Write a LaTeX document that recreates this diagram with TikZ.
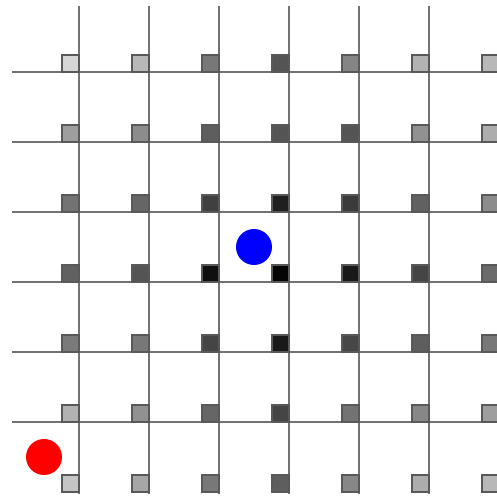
\documentclass[tikz,border=0pt]{standalone}
\usepackage{tikz}
\usetikzlibrary{positioning}
\tikzset{
  gridline/.style={draw=black!55, line width=0.7pt},
  cellmark/.style={
    rectangle, draw=black!65, line width=0.6pt,
    minimum size=0.243cm, inner sep=0pt, outer sep=0pt,
    anchor=south east
  },
  marker/.style={
    circle, fill=#1, draw=none,
    minimum size=0.514cm, inner sep=0pt
  }
}
\begin{document}
\begin{tikzpicture}[x=1cm, y=-1cm]

% page frame
\useasboundingbox (-0.1286,-0.0286) rectangle (6.971,7.1);
\clip (-0.1286,-0.0286) rectangle (6.971,7.1);

% grid
\foreach \k in {1,...,6} {
  \draw[gridline] (0.043,\k) -- (6.971,\k);
  \draw[gridline] (\k,0.057) -- (\k,7.03);
}

% shaded markers at each crossing
\foreach \vals [count=\r from 0] in {
    {16,28,53,67,48,30,28},
    {38,45,63,67,67,43,32},
    {55,60,75,88,77,62,45},
    {62,67,94,98,90,73,58},
    {52,53,73,90,72,63,53},
    {30,43,60,73,55,47,38},
    {23,35,53,63,47,32,28}} {
  \foreach \v [count=\c from 0] in \vals {
    \node[cellmark, fill=black!\v] (m-\r-\c) at (\c+1,\r+1) {};
  }
}

% positions
\node[marker=red] (reddot) at (0.5,6.5) {};
\node[marker=blue] (bluedot) at (3.5,3.5) {};

\end{tikzpicture}
\end{document}
